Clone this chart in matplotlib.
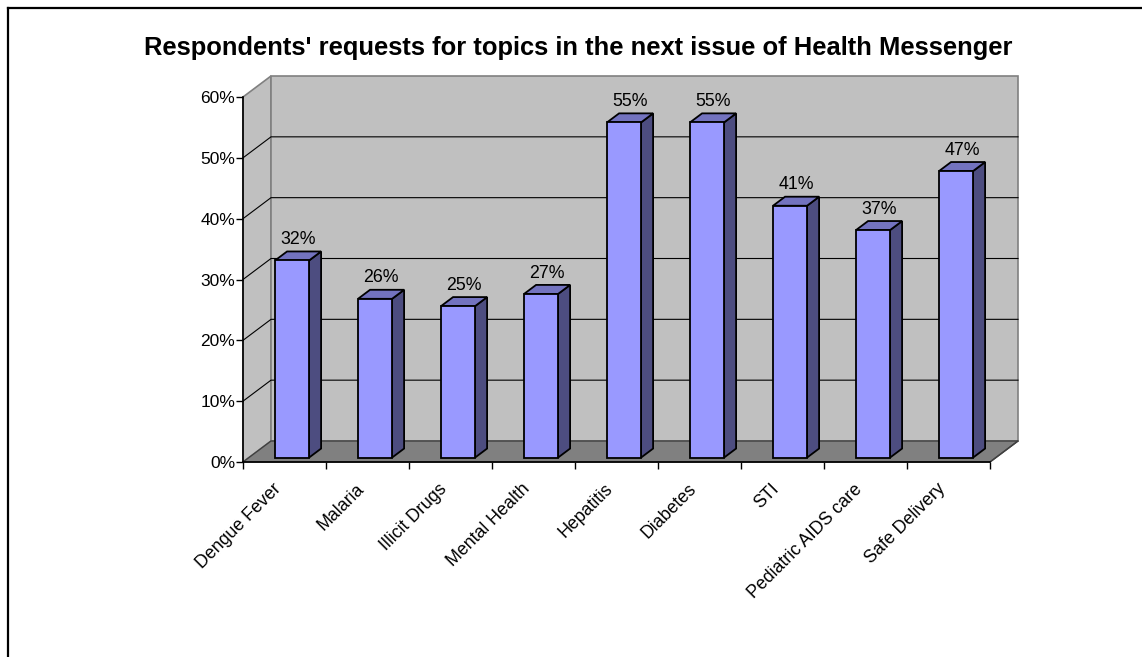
import matplotlib
matplotlib.use("Agg")
import matplotlib.pyplot as plt
from matplotlib.patches import Polygon
from matplotlib.lines import Line2D
from matplotlib.ticker import FuncFormatter
from matplotlib.transforms import ScaledTranslation

categories = ["Dengue Fever", "Malaria", "Illicit Drugs", "Mental Health", "Hepatitis",
              "Diabetes", "STI", "Pediatric AIDS care", "Safe Delivery"]
values = [32.4, 26.1, 24.9, 26.9, 55.1, 55.1, 41.4, 37.4, 47.1]
title = "Respondents' requests for topics in the next issue of Health Messenger"

W, H = 1142, 657
plt.rcParams['font.family'] = ['Liberation Sans', 'DejaVu Sans']
fig = plt.figure(figsize=(W / 100, H / 100), dpi=100)
fig.patch.set_facecolor('white')

ax = fig.add_axes([243 / W, (H - 462) / H, 747 / W, 365 / H])
n = len(categories)
ymax = 60
ax.set_xlim(0, n)
ax.set_ylim(0, ymax)
ax.patch.set_alpha(0)

DX = 28 / 83.0          # depth offset in category units
DY = 21 / (365 / 60.0)  # depth offset in percent units

wall_col = '#c0c0c0'
floor_col = '#808080'
edge_gray = '#808080'

# walls and floor
ax.add_patch(Polygon([(0, 0), (DX, DY), (DX, ymax + DY), (0, ymax)], closed=True,
                     facecolor=wall_col, edgecolor=edge_gray, lw=1.2, clip_on=False, zorder=1))
ax.add_patch(Polygon([(DX, DY), (n + DX, DY), (n + DX, ymax + DY), (DX, ymax + DY)], closed=True,
                     facecolor=wall_col, edgecolor=edge_gray, lw=1.2, clip_on=False, zorder=1))
ax.add_patch(Polygon([(0, 0), (n, 0), (n + DX, DY), (DX, DY)], closed=True,
                     facecolor=floor_col, edgecolor='#404040', lw=1.0, clip_on=False, zorder=2))

# gridlines
for g in range(10, ymax, 10):
    ax.add_line(Line2D([0, DX, n + DX], [g, g + DY, g + DY], color='black', lw=0.8,
                       clip_on=False, zorder=1.5))

# bars
bx0, bw = 0.315, 0.41
f1, f2 = 0.21, 0.64
front_c, side_c, top_c = '#9999ff', '#4d4d80', '#7373bf'
for i, v in enumerate(values):
    x0 = i + bx0 + DX * f1
    x1 = x0 + bw
    y0 = DY * f1
    ddx = DX * (f2 - f1)
    ddy = DY * (f2 - f1)
    ax.add_patch(Polygon([(x1, y0), (x1 + ddx, y0 + ddy), (x1 + ddx, y0 + v + ddy), (x1, y0 + v)],
                         closed=True, facecolor=side_c, edgecolor='black', lw=1.3, clip_on=False, zorder=5))
    ax.add_patch(Polygon([(x0, y0 + v), (x1, y0 + v), (x1 + ddx, y0 + v + ddy), (x0 + ddx, y0 + v + ddy)],
                         closed=True, facecolor=top_c, edgecolor='black', lw=1.3, clip_on=False, zorder=5))
    ax.add_patch(Polygon([(x0, y0), (x1, y0), (x1, y0 + v), (x0, y0 + v)],
                         closed=True, facecolor=front_c, edgecolor='black', lw=1.3, clip_on=False, zorder=6))
    ax.annotate(f"{v:.0f}%", xy=((x0 + x1) / 2 + ddx / 2, y0 + v + ddy), xytext=(0, 5.3),
                textcoords='offset points', ha='center', va='baseline', fontsize=12.8, zorder=7)

# axes
for s in ['top', 'right']:
    ax.spines[s].set_visible(False)
for s in ['left', 'bottom']:
    ax.spines[s].set_color('black')
    ax.spines[s].set_linewidth(1.2)
    ax.spines[s].set_zorder(8)
ax.add_line(Line2D([n, n + DX], [0, DY], color='#404040', lw=1.0, clip_on=False, zorder=3))

ax.set_yticks(range(0, ymax + 1, 10))
ax.yaxis.set_major_formatter(FuncFormatter(lambda v, p: f"{int(v)}%"))
ax.tick_params(axis='y', direction='out', length=5, width=1, labelsize=12.5, pad=0.5)

ax.set_xticks([i + 0.5 for i in range(n)])
ax.set_xticklabels(categories, rotation=45, ha='right', va='top', rotation_mode='anchor', fontsize=12.8)
ax.set_xticks(range(n + 1), minor=True)
ax.tick_params(axis='x', which='major', length=0, pad=12)
ax.tick_params(axis='x', which='minor', direction='out', length=5, width=1)
for lbl in ax.get_xticklabels():
    lbl.set_transform(lbl.get_transform() + ScaledTranslation(-12 / 100, -2 / 100, fig.dpi_scale_trans))

fig.text(578 / W, 1 - 48 / H, title, ha='center', va='center', fontsize=18.4, fontweight='bold')

fig.add_artist(Line2D([8 / W, 8 / W], [0, 1 - 8 / H], transform=fig.transFigure, color='black', lw=1.6))
fig.add_artist(Line2D([8 / W, 1], [1 - 8 / H, 1 - 8 / H], transform=fig.transFigure, color='black', lw=1.6))

fig.savefig('out.png', dpi=100)
